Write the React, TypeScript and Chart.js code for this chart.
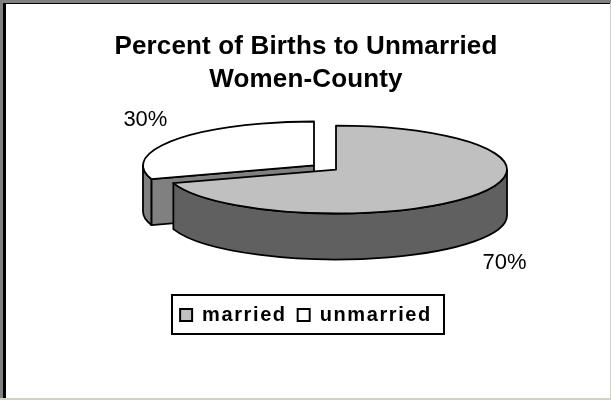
import React, { useEffect, useRef } from "react";
import { Chart, registerables } from "chart.js";

Chart.register(...registerables);

const categories = ["married", "unmarried"];
const values = [70, 30];
const topColors = ["#C0C0C0", "#FFFFFF"];
const sideColors = ["#606060", "#808080"];
const titleLines = ["Percent of Births to Unmarried", "Women-County"];

const FONT = "'Liberation Sans', Arial, sans-serif";
const CENTER_X = 325;
const CENTER_Y = 167.5;
const TILT = 0.257;
const DEPTH = 46;
const LEGEND_SPACING = "1.6px";
const TITLE_SPACING = "0.15px";

const spaced = (box: any, spacing: string) => {
  if (!box || box.__spaced) return;
  box.__spaced = true;
  const draw = box.draw;
  box.draw = function (...args: any[]) {
    const c = this.ctx;
    c.save();
    c.letterSpacing = spacing;
    draw.apply(this, args);
    c.restore();
  };
};

const pie3d = {
  id: "pie3d",
  beforeLayout(chart: any) {
    chart.ctx.letterSpacing = LEGEND_SPACING;
  },
  afterLayout(chart: any) {
    chart.ctx.letterSpacing = "0px";
    spaced(chart.legend, LEGEND_SPACING);
    spaced(chart.titleBlock, TITLE_SPACING);
  },
  beforeDraw(chart: any) {
    const { ctx, width, height } = chart;
    ctx.save();
    ctx.fillStyle = "#FFFFFF";
    ctx.fillRect(0, 0, width, height);
    ctx.fillStyle = "#D4D0C8";
    ctx.fillRect(0, height - 2, width, 2);
    ctx.fillRect(width - 1, 0, 1, height);
    ctx.fillStyle = "#808080";
    ctx.fillRect(0, 0, width, 3);
    ctx.fillRect(0, 0, 3, height - 2);
    ctx.fillStyle = "#000000";
    ctx.fillRect(3, 3, width - 4, 1);
    ctx.fillRect(3, 3, 3, height - 5);
    ctx.restore();
  },
  beforeDatasetsDraw(chart: any) {
    const { ctx } = chart;
    const arcs = chart.getDatasetMeta(0).data;
    const geo = arcs.map((arc: any, i: number) => {
      const p = arc.getProps(["startAngle", "endAngle", "outerRadius"], true);
      const mid = (p.startAngle + p.endAngle) / 2;
      const off = (arc.options.offset || 0) / 4;
      return {
        i,
        start: p.startAngle,
        end: p.endAngle,
        rx: p.outerRadius,
        ry: p.outerRadius * TILT,
        mid,
        x: CENTER_X + Math.cos(mid) * off,
        y: CENTER_Y + Math.sin(mid) * off * TILT,
      };
    });
    ctx.save();
    ctx.strokeStyle = "#000000";
    ctx.lineWidth = 1.8;
    ctx.lineJoin = "round";
    const paint = (fill: string) => {
      ctx.fillStyle = fill;
      ctx.fill();
      ctx.stroke();
    };
    const order = [...geo].sort((a, b) => Math.sin(a.mid) - Math.sin(b.mid));
    order.forEach((g: any) => {
      const pt = (a: number) => [g.x + g.rx * Math.cos(a), g.y + g.ry * Math.sin(a)];
      const side = sideColors[g.i];
      [
        { a: g.start, show: Math.cos(g.start) < -1e-6 },
        { a: g.end, show: Math.cos(g.end) > 1e-6 },
      ].forEach((f) => {
        if (!f.show) return;
        const [px, py] = pt(f.a);
        ctx.beginPath();
        ctx.moveTo(g.x, g.y);
        ctx.lineTo(px, py);
        ctx.lineTo(px, py + DEPTH);
        ctx.lineTo(g.x, g.y + DEPTH);
        ctx.closePath();
        paint(side);
      });
      const a0 = Math.max(g.start, 0);
      const a1 = Math.min(g.end, Math.PI);
      if (a1 > a0) {
        ctx.beginPath();
        ctx.ellipse(g.x, g.y, g.rx, g.ry, 0, a0, a1);
        ctx.ellipse(g.x, g.y + DEPTH, g.rx, g.ry, 0, a1, a0, true);
        ctx.closePath();
        paint(side);
      }
      ctx.beginPath();
      ctx.moveTo(g.x, g.y);
      ctx.ellipse(g.x, g.y, g.rx, g.ry, 0, g.start, g.end);
      ctx.closePath();
      paint(topColors[g.i]);
    });
    const total = values.reduce((s, v) => s + v, 0);
    ctx.fillStyle = "#000000";
    ctx.font = `22px ${FONT}`;
    ctx.textAlign = "center";
    ctx.textBaseline = "middle";
    geo.forEach((g: any) => {
      const s = Math.sin(g.mid);
      const lx = CENTER_X + Math.cos(g.mid) * 222;
      const ly = CENTER_Y + s * 222 * TILT + (s > 0 ? 62 : -14);
      ctx.fillText(`${Math.round((values[g.i] / total) * 100)}%`, lx, ly);
    });
    ctx.restore();
    return false;
  },
  afterDraw(chart: any) {
    const { ctx, legend } = chart;
    const boxes = legend.legendHitBoxes;
    if (!boxes || !boxes.length) return;
    const left = Math.min(...boxes.map((b: any) => b.left)) - 8;
    const right = Math.max(...boxes.map((b: any) => b.left + b.width)) + 12;
    ctx.save();
    ctx.strokeStyle = "#000000";
    ctx.lineWidth = 2;
    ctx.strokeRect(Math.round(left), Math.round(legend.top) + 1, Math.round(right - left), Math.round(legend.height) - 2);
    ctx.restore();
  },
};

export default function App() {
  const ref = useRef<HTMLCanvasElement>(null);
  useEffect(() => {
    const chart = new Chart(ref.current as HTMLCanvasElement, {
      type: "pie",
      data: {
        labels: categories,
        datasets: [
          {
            data: values,
            backgroundColor: topColors,
            borderColor: "#000000",
            borderWidth: 2,
            offset: 54.4,
          },
        ],
      },
      options: {
        animation: false,
        responsive: false,
        radius: 171,
        layout: { padding: { left: 1, right: 0, top: 30, bottom: 65 } },
        plugins: {
          tooltip: { enabled: false },
          title: {
            display: true,
            text: titleLines,
            color: "#000000",
            font: { family: FONT, size: 26, weight: "bold", lineHeight: 1.27 },
            padding: 0,
          },
          legend: {
            position: "bottom",
            labels: {
              color: "#000000",
              font: { family: FONT, size: 20, weight: "bold" },
              boxWidth: 12,
              boxHeight: 12,
              padding: 11,
            },
          },
        },
      },
      plugins: [pie3d],
    } as any);
    return () => chart.destroy();
  }, []);
  return (
    <canvas
      ref={ref}
      width={611}
      height={400}
      style={{ position: "fixed", left: 0, top: 0, width: 611, height: 400, display: "block" }}
    />
  );
}
